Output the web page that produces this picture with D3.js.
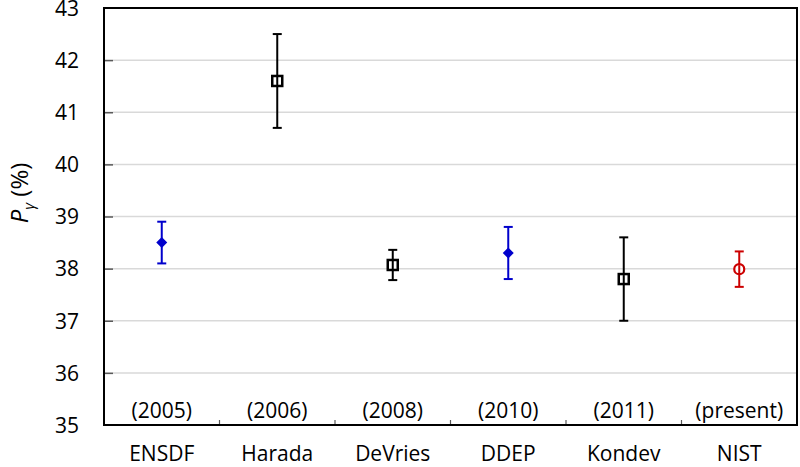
<!DOCTYPE html>
<html>
<head>
<meta charset="utf-8">
<script src="https://cdn.jsdelivr.net/npm/d3@7"></script>
<style>
  body { margin: 0; background: #fff; }
  text { font-family: "Open Sans", "Noto Sans", sans-serif; fill: #000; }
</style>
</head>
<body>
<div class="graph"></div>
<script>
// data
const labs = ["ENSDF", "Harada", "DeVries", "DDEP", "Kondev", "NIST"];
const years = ["(2005)", "(2006)", "(2008)", "(2010)", "(2011)", "(present)"];
const vals = [38.5, 41.6, 38.07, 38.3, 37.8, 37.99];
const errs = [0.4, 0.9, 0.29, 0.5, 0.8, 0.34];
const kinds = ["diamond", "square", "square", "diamond", "square", "circle"];
const yTicks = [35, 36, 37, 38, 39, 40, 41, 42, 43];

const colors = { diamond: "#0000cc", square: "#000000", circle: "#cc0000" };

const W = 800, H = 467;
const m = { l: 104, r: 3, t: 8, b: 42 };
const w = W - m.l - m.r, h = H - m.t - m.b;

const svg = d3.select(".graph").append("svg").attr("width", W).attr("height", H);
const g = svg.append("g").attr("transform", "translate(" + m.l + "," + m.t + ")");

const x = d3.scaleBand().domain(labs).range([0, w]);
const y = d3.scaleLinear().domain([35, 43]).range([h, 0]);

// gridlines
g.append("g").selectAll("line").data(yTicks.slice(1, -1)).enter().append("line")
  .attr("x1", 0).attr("x2", w)
  .attr("y1", d => y(d)).attr("y2", d => y(d))
  .attr("stroke", "#d9d9d9").attr("stroke-width", 1.5);

// left axis, ticks inside
const ya = g.append("g").call(d3.axisLeft(y).tickValues(yTicks).tickSize(-9).tickPadding(25));
ya.select(".domain").remove();
ya.selectAll(".tick line").attr("stroke", "#595959").attr("stroke-width", 1.5);
ya.selectAll(".tick text").style("font-size", "21px").attr("dy", "0.35em")
  .style("font-family", "'Open Sans', sans-serif");
ya.selectAll(".tick").filter(d => d === 35 || d === 43).select("line").remove();

// bottom axis: small ticks between categories
g.append("g").selectAll("line").data(labs.slice(1)).enter().append("line")
  .attr("x1", d => x(d)).attr("x2", d => x(d))
  .attr("y1", h).attr("y2", h - 5)
  .attr("stroke", "#595959").attr("stroke-width", 1.2);

// frame
g.append("rect").attr("x", 0).attr("y", 0).attr("width", w).attr("height", h)
  .attr("fill", "none").attr("stroke", "#000").attr("stroke-width", 2);

// category and year labels
g.append("g").selectAll("text").data(labs).enter().append("text")
  .attr("x", d => x(d) + x.bandwidth() / 2).attr("y", h + 36)
  .attr("text-anchor", "middle")
  .style("font-size", "21px").text(d => d);
g.append("g").selectAll("text").data(years).enter().append("text")
  .attr("x", (d, i) => x(labs[i]) + x.bandwidth() / 2).attr("y", h - 14)
  .attr("dy", "0.35em").attr("text-anchor", "middle")
  .style("font-size", "21px").text(d => d);

// error bars and markers
const pts = labs.map((d, i) => ({ lab: d, v: vals[i], e: errs[i], k: kinds[i] }));
const pg = g.append("g").selectAll("g").data(pts).enter().append("g")
  .attr("transform", d => "translate(" + (x(d.lab) + x.bandwidth() / 2) + ",0)");

pg.append("line")
  .attr("x1", 0).attr("x2", 0)
  .attr("y1", d => y(d.v + d.e)).attr("y2", d => y(d.v - d.e))
  .attr("stroke", d => colors[d.k]).attr("stroke-width", 2);
pg.selectAll(".cap").data(d => [{ d: d, yy: d.v + d.e }, { d: d, yy: d.v - d.e }])
  .enter().append("line")
  .attr("x1", -4.5).attr("x2", 4.5)
  .attr("y1", c => y(c.yy)).attr("y2", c => y(c.yy))
  .attr("stroke", c => colors[c.d.k]).attr("stroke-width", 2);

pg.filter(d => d.k === "square").append("rect")
  .attr("x", -5).attr("y", d => y(d.v) - 5).attr("width", 10).attr("height", 10)
  .attr("fill", "#fff").attr("stroke", "#000").attr("stroke-width", 2.5);
pg.filter(d => d.k === "diamond").append("path")
  .attr("d", d => "M0," + (y(d.v) - 5.5) + "L5.5," + y(d.v) + "L0," + (y(d.v) + 5.5) + "L-5.5," + y(d.v) + "Z")
  .attr("fill", colors.diamond);
pg.filter(d => d.k === "circle").append("circle")
  .attr("cx", 0).attr("cy", d => y(d.v)).attr("r", 5)
  .attr("fill", "#fff").attr("stroke", colors.circle).attr("stroke-width", 2.2);
// redraw the vertical line through hollow markers, as in the original
pg.filter(d => d.k !== "diamond").append("line")
  .attr("x1", 0).attr("x2", 0)
  .attr("y1", d => y(d.v) - 4).attr("y2", d => y(d.v) + 4)
  .attr("stroke", d => colors[d.k]).attr("stroke-width", 2);

// y label
const yl = svg.append("text")
  .attr("transform", "translate(28,193) rotate(-90)")
  .attr("text-anchor", "middle").style("font-size", "24px");
yl.append("tspan").style("font-style", "italic").text("P");
yl.append("tspan").attr("dy", 6).style("font-size", "15px").style("font-style", "italic").text("γ");
yl.append("tspan").attr("dy", -6).text(" (%)");
</script>
</body>
</html>
